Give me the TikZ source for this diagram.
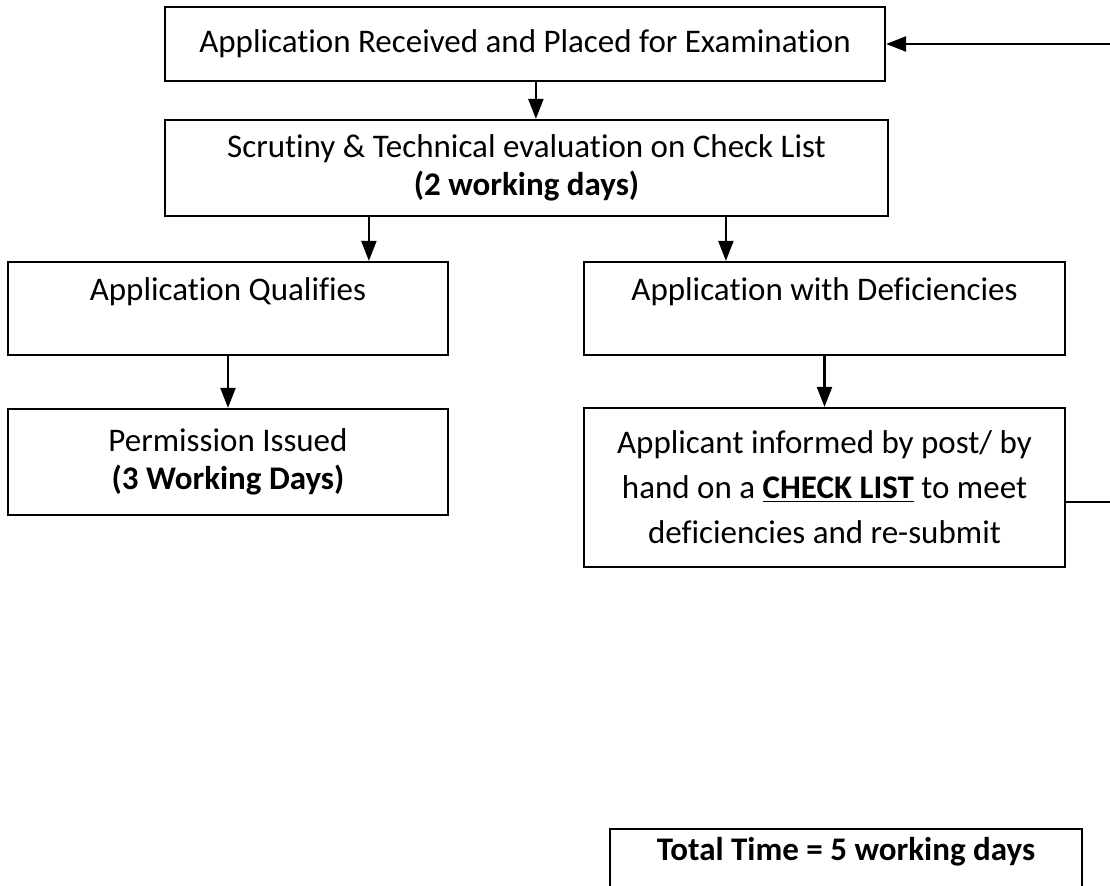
\documentclass[tikz,border=0pt]{standalone}
\usepackage{fontspec}
\setmainfont[Ligatures=NoCommon]{Carlito}
\usetikzlibrary{arrows.meta,positioning,calc}

\begin{document}
\begin{tikzpicture}[x=0.5pt, y=-0.5pt, line width=1.1pt, box/.style={draw, rectangle, inner sep=0pt, align=center}, arr/.style={-{Triangle[length=10pt,width=7.5pt]}}]
\useasboundingbox (0,0) rectangle (1110,886);
\begin{scope}[every node/.style={font=\fontsize{16.5}{19}\selectfont}]
\node[box, minimum width=360pt, minimum height=37pt] (recv) at (525,44) {Application Received and Placed for Examination};
\node[box, minimum width=361.5pt, minimum height=48pt] (scrut) at (526.5,168) {Scrutiny \& Technical evaluation on Check List\\\textbf{(2 working days)}};
\node[box, minimum width=220pt, minimum height=46.5pt] (qual) at (228,308.5) {Application Qualifies\\\mbox{}};
\node[box, minimum width=220pt, minimum height=53pt] (perm) at (228,462) {Permission Issued\\\textbf{(3 Working Days)}};
\node[box, minimum width=240.5pt, minimum height=46.5pt] (defic) at (824.5,308.5) {Application with Deficiencies\\\mbox{}};
\node[box, minimum width=240.5pt, minimum height=79.5pt] (inform) at (824.5,487.5) {Applicant informed by post/ by\\[3.5pt]hand on a \underline{\textbf{CHECK LIST}} to meet\\[3.5pt]deficiencies and re-submit};
\node[box, anchor=north, minimum width=236pt, inner ysep=4pt] (total) at (846,828) {\textbf{Total Time = 5 working days}\\[50pt]\mbox{}};
\end{scope}
\coordinate (fbtop) at (1110,44);
\coordinate (fbbot) at (1110,502);
\begin{scope}[every path/.style={arr}]
\draw ($(recv.south west)+(372,0)$) -- ($(scrut.north west)+(372,0)$);
\draw ($(scrut.south west)+(205,0)$) -- ($(qual.north west)+(362,0)$);
\draw ($(scrut.south west)+(562,0)$) -- ($(defic.north west)+(143,0)$);
\draw (qual) -- (perm);
\draw (defic) -- (inform);
\draw (fbtop) -- (recv.east);
\end{scope}
\draw (fbbot -| inform.east) -- (fbbot);
\end{tikzpicture}
\end{document}
